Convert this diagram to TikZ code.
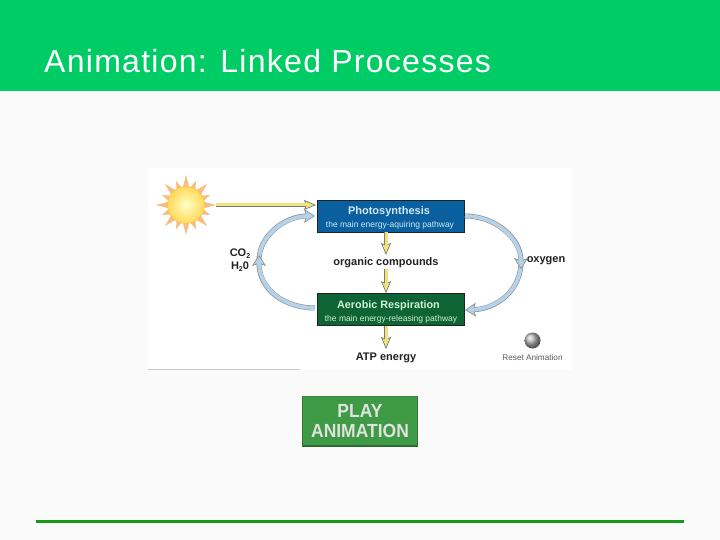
\documentclass[tikz,border=0pt]{standalone}
\usepackage{fontspec}
\setmainfont{Liberation Sans}
\usetikzlibrary{arrows.meta,shapes.geometric,calc}
\definecolor{hdr}{HTML}{00CC66}
\definecolor{bg}{HTML}{FAFAFA}
\definecolor{rule}{HTML}{169A16}
\definecolor{pbox}{HTML}{0A609F}
\definecolor{abox}{HTML}{0E6434}
\definecolor{ink}{HTML}{222222}
\definecolor{yel}{HTML}{F2E27A}
\definecolor{blu}{HTML}{B4D2EA}
\definecolor{play}{HTML}{3F9A45}
\definecolor{ray}{HTML}{F6BE84}
\definecolor{ptext}{HTML}{CFE8F5}
\definecolor{atext}{HTML}{CFEFD8}
\tikzset{
  stagebox/.style={draw=ink,line width=.6pt,minimum width=147pt,minimum height=32pt,inner sep=0pt,align=center},
  boldlabel/.style={font=\bfseries\fontsize{11}{12}\selectfont,text=ink,inner sep=0pt},
  yarrow/.style={draw=ink!60,line width=4.4pt,-{Stealth[length=12pt,width=10pt,inset=2pt,fill=yel,line width=.7pt]},
    postaction={draw=yel,line width=3pt,-,shorten >=9pt}},
  barrow/.style={draw=ink!50,line width=5pt,-{Stealth[length=11pt,width=14pt,inset=2.5pt,fill=blu,line width=.7pt]},
    postaction={draw=blu,line width=3.8pt,-,shorten >=7pt}}
}
\begin{document}
\begin{tikzpicture}[x=1pt,y=-1pt]
\useasboundingbox (0,0) rectangle (720,540);
\fill[bg] (0,0) rectangle (720,540);
\fill[hdr] (0,0) rectangle (720,91);
\node[anchor=base west,inner sep=0pt,font=\fontsize{32}{36}\selectfont\addfontfeatures{LetterSpace=4},text=white] (title) at (44,73) {Animation: Linked Processes};
\fill[white] (148,168) rectangle (573,370);
\draw[black!20,line width=.8pt] (148,369.5) -- (300,369.5);
\draw[rule,line width=3pt] (36,521.5) -- (684,521.5);

% boxes
\node[stagebox,fill=pbox] (photo) at (390.5,216) {};
\node[inner sep=0pt,font=\bfseries\fontsize{11}{12}\selectfont,text=ptext] (photot) at (389,212) {Photosynthesis};
\node[inner sep=0pt,font=\fontsize{8.5}{10}\selectfont,text=ptext] (photos) at (390,225.5) {the main energy-aquiring pathway};
\node[stagebox,fill=abox] (aero) at (390.5,309.5) {};
\node[inner sep=0pt,font=\bfseries\fontsize{10.8}{12}\selectfont,text=atext] (aerot) at (388.5,306) {Aerobic Respiration};
\node[inner sep=0pt,font=\fontsize{8.5}{10}\selectfont,text=atext] (aeros) at (391,319) {the main energy-releasing pathway};

% labels
\node[boldlabel] (org) at (386,262.7) {organic compounds};
\node[boldlabel] (atp) at (386,357.7) {ATP energy};
\node[boldlabel] (oxy) at (546,260.7) {oxygen};
\node[boldlabel] (co) at (240,253.5) {CO\raisebox{-2pt}{\fontsize{7}{8}\selectfont 2}};
\node[boldlabel] (hto) at (240,267) {H\raisebox{-2pt}{\fontsize{7}{8}\selectfont 2}0};
\node[inner sep=0pt,font=\fontsize{8.2}{9}\selectfont,text=black!65] (reset) at (532.5,358) {Reset Animation};
\shade[ball color=black!30,draw=none] (532.5,340.5) circle (8);

% sun
\node[star,star points=8,star point ratio=2.4,minimum size=60pt,inner sep=0pt,fill=ray] (raysa) at (186,205) {};
\node[star,star points=8,star point ratio=2,minimum size=52pt,inner sep=0pt,rotate=22.5,fill=ray] (raysb) at (186,205) {};
\node[circle,minimum size=37pt,inner sep=0pt,draw=orange!70!yellow!70,line width=.5pt,inner color=yellow!22!white,outer color=yellow!55!orange!65] (sun) at (186,205) {};

% connector end points
\coordinate (sunout) at (216,205);
\coordinate (photoin) at (316,205);
\coordinate (photoinb) at (315,216);
\coordinate (aeroout) at (315,308);
\coordinate (cotop) at (259,255);
\coordinate (cobot) at (259,260);
\coordinate (photoout) at (465,216);
\coordinate (oxyb) at (521,269);
\coordinate (oxyt) at (521,262);
\coordinate (aeroin) at (465,310);

% straight yellow arrows
\draw[yarrow] (sunout) -- (photoin);
\draw[yarrow] (photo.south -| 386,0) -- (386,255);
\draw[yarrow] (386,269) -- (aero.north -| 386,0);
\draw[yarrow] (aero.south -| 386,0) -- (386,349);

% curved blue arrows
\draw[barrow] (cobot) .. controls (259,236) and (285,216) .. (photoinb);
\draw[barrow] (aeroout) .. controls (285,308) and (259,290) .. (cotop);
\draw[barrow] (oxyt) .. controls (521,290) and (497,309) .. (aeroin);
\draw[barrow] (photoout) .. controls (495,216) and (521,238) .. (oxyb);

% play button
\node[fill=play,minimum width=115pt,minimum height=49pt,inner sep=0pt,
  align=center,text=green!6!black!12,font=\bfseries\fontsize{19}{20}\selectfont] (playb) at (360,421)
  {\scalebox{.92}[1]{PLAY}\\\scalebox{.92}[1]{ANIMATION}};
\draw[play!70!black,line width=2pt] (playb.south west) -- (playb.south east);
\draw[play!80!black,line width=1pt] (playb.south west) -- (playb.north west);
\draw[play!80!black,line width=1pt] (playb.south east) -- (playb.north east);
\draw[play!85!black,line width=1pt] (playb.north west) -- (playb.north east);
\end{tikzpicture}
\end{document}
